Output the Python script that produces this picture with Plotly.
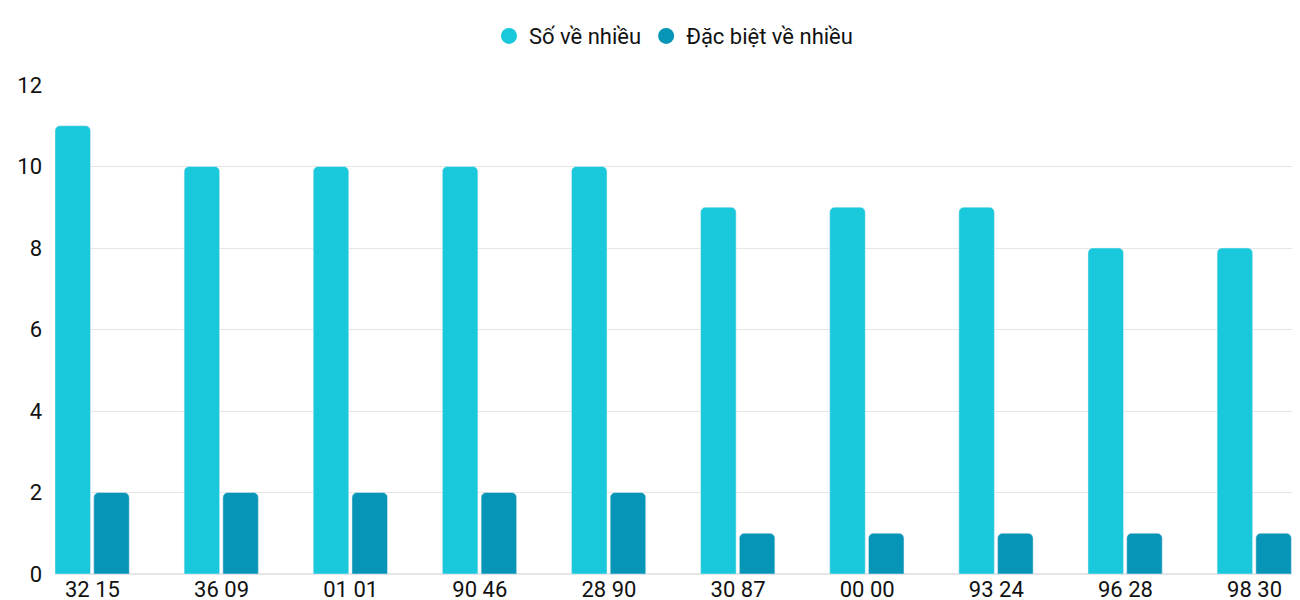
import plotly.graph_objects as go

categories = ["32 15", "36 09", "01 01", "90 46", "28 90", "30 87", "00 00", "93 24", "96 28", "98 30"]
so_ve_nhieu = [11, 10, 10, 10, 10, 9, 9, 9, 8, 8]
dac_biet = [2, 2, 2, 2, 2, 1, 1, 1, 1, 1]
names = ["Số về nhiều", "Đặc biệt về nhiều"]
colors = ["#1ac8db", "#0795b7"]

fig = go.Figure()
fig.add_bar(x=categories, y=so_ve_nhieu, name=names[0], marker_color=colors[0],
            width=0.275, offset=-0.29, showlegend=False)
fig.add_bar(x=categories, y=dac_biet, name=names[1], marker_color=colors[1],
            width=0.275, offset=0.01, showlegend=False)
for n, c in zip(names, colors):
    fig.add_scatter(x=[None], y=[None], mode="markers", name=n,
                    marker=dict(color=c, size=26, symbol="circle"))
fig.update_layout(
    autosize=True, barcornerradius=5,
    font=dict(family="Roboto", size=22, color="#111"),
    plot_bgcolor="white", paper_bgcolor="white",
    margin=dict(l=47, r=0, t=77, b=34, autoexpand=False),
    legend=dict(orientation="h", x=0.5, xanchor="center", y=1.1, yanchor="middle",
                font=dict(size=22), itemsizing="trace"),
    xaxis=dict(range=[-0.29, 9.29], showgrid=False, ticks="", tickfont=dict(size=22)),
    yaxis=dict(range=[0, 12], dtick=2, gridcolor="#e6e6e6", zeroline=True,
               zerolinecolor="#e6e6e6", tickfont=dict(size=22), ticklabelstandoff=12),
)
fig.write_html("out.html", full_html=True, default_width="100%", default_height="100vh",
               config={"responsive": True})
